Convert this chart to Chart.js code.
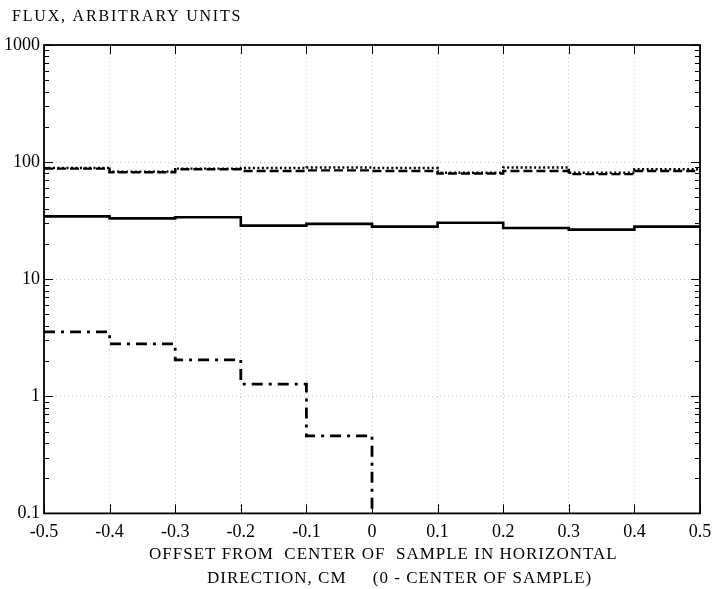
<!DOCTYPE html>
<html>
<head>
<meta charset="utf-8">
<script src="https://cdn.jsdelivr.net/npm/chart.js@4"></script>
<style>
  html, body { margin: 0; padding: 0; background: #fff; }
  #wrap { width: 716px; height: 589px; }
</style>
</head>
<body>
<div id="wrap"><canvas id="fluxChart"></canvas></div>
<script>
"use strict";

// bin edges, cm
const xEdges = [-0.5, -0.4, -0.3, -0.2, -0.1, 0, 0.1, 0.2, 0.3, 0.4, 0.5];
// flux per bin (10 bins)
const dottedFlux = [89, 83, 88, 89, 90, 89, 81, 90, 81, 87];
const dashedFlux = [88, 82, 87, 84, 85, 84, 80, 84, 79, 84];
const solidFlux = [34.4, 33.1, 33.8, 28.7, 29.7, 28.1, 30.3, 27.4, 26.5, 28.1];
// drops below the axis at x = 0
const dashDotFlux = [3.55, 2.8, 2.05, 1.27, 0.46, 0.05];

const yDecades = [0.1, 1, 10, 100, 1000];
const yLabels = ["0.1", "1", "10", "100", "1000"];

// every tick 1..9 per decade
const yTicks = [];
for (let d = 0; d < yDecades.length - 1; d++) {
  for (let k = 1; k < 10; k++) {
    yTicks.push(+(yDecades[d] * k).toPrecision(3));
  }
}
yTicks.push(yDecades[yDecades.length - 1]);

function isDecade(v) {
  const l = Math.log10(v);
  return Math.abs(l - Math.round(l)) < 1e-6;
}

// step points: left edge of each bin, plus the right end
function stepData(vals) {
  const pts = [];
  for (let i = 0; i < vals.length; i++) {
    pts.push({ x: xEdges[i], y: vals[i] });
  }
  if (vals.length < xEdges.length) {
    pts.push({ x: xEdges[vals.length], y: vals[vals.length - 1] });
  }
  return pts;
}

function series(vals, dash, width) {
  return {
    data: stepData(vals),
    borderColor: "#000",
    borderWidth: width,
    borderDash: dash,
    stepped: "before",
    pointRadius: 0,
    fill: false
  };
}

const serif = "'Liberation Serif', 'DejaVu Serif', serif";

//frame, inward ticks and the titles
const framePlugin = {
  id: "frame",
  afterDatasetsDraw(chart) {
    const { ctx, chartArea: a, scales } = chart;
    const x = scales.x;
    const y = scales.y;
    ctx.save();
    ctx.strokeStyle = "#000";
    ctx.lineWidth = 1;
    ctx.beginPath();
    y.ticks.forEach(t => {
      const py = Math.round(y.getPixelForValue(t.value)) + 0.5;
      const len = isDecade(t.value) ? 9 : 5;
      ctx.moveTo(a.left, py); ctx.lineTo(a.left + len, py);
      ctx.moveTo(a.right, py); ctx.lineTo(a.right - len, py);
    });
    x.ticks.forEach(t => {
      const px = Math.round(x.getPixelForValue(t.value)) + 0.5;
      ctx.moveTo(px, a.bottom); ctx.lineTo(px, a.bottom - 9);
      ctx.moveTo(px, a.top); ctx.lineTo(px, a.top + 9);
    });
    ctx.stroke();
    ctx.lineWidth = 1.8;
    ctx.strokeRect(a.left, a.top, a.right - a.left, a.bottom - a.top);
    ctx.restore();
  },
  afterDraw(chart) {
    const ctx = chart.ctx;
    ctx.save();
    ctx.fillStyle = "#000";
    ctx.textAlign = "left";
    ctx.textBaseline = "alphabetic";
    ctx.font = "16px " + serif;
    ctx.letterSpacing = "1.8px";
    ctx.fillText("FLUX, ARBITRARY UNITS", 12, 21);
    ctx.font = "17px " + serif;
    ctx.letterSpacing = "1px";
    ctx.fillText("OFFSET FROM  CENTER OF  SAMPLE IN HORIZONTAL", 149, 559);
    ctx.fillText("DIRECTION, CM     (0 - CENTER OF SAMPLE)", 207, 583);
    ctx.restore();
  }
};

const config = {
  type: "line",
  data: {
    datasets: [
      series(dottedFlux, [2, 2.5], 2.4),
      series(dashedFlux, [9, 4], 2.4),
      series(solidFlux, [], 2.6),
      series(dashDotFlux, [11, 6, 3, 6], 2.8)
    ]
  },
  options: {
    responsive: true,
    maintainAspectRatio: false,
    animation: false,
    events: [],
    layout: { padding: { left: 0, right: 16, top: 45, bottom: 38 } },
    plugins: {
      legend: { display: false },
      tooltip: { enabled: false },
      title: { display: false }
    },
    scales: {
      x: {
        type: "linear",
        min: -0.5,
        max: 0.5,
        afterFit: scale => {
          // let the 0.5 label hang into the margin
          scale.paddingRight = 0;
        },
        grid: {
          color: "#c4c4c4",
          lineWidth: 1,
          drawTicks: false
        },
        border: { display: false, dash: [1, 3] },
        ticks: {
          stepSize: 0.1,
          padding: 8,
          color: "#000",
          font: { family: serif, size: 18 },
          maxRotation: 0,
          callback: v => (Math.abs(v) < 1e-9 ? "0" : v.toFixed(1))
        }
      },
      y: {
        type: "logarithmic",
        min: 0.1,
        max: 1000,
        afterBuildTicks: scale => {
          scale.ticks = yTicks.map(v => ({ value: v }));
        },
        grid: {
          color: c => (c.tick && isDecade(c.tick.value) ? "#c4c4c4" : "rgba(0,0,0,0)"),
          lineWidth: 1,
          drawTicks: false
        },
        border: { display: false, dash: [1, 3] },
        ticks: {
          autoSkip: false,
          padding: 4,
          color: "#000",
          font: { family: serif, size: 18 },
          callback: v => {
            const i = yDecades.findIndex(d => Math.abs(d - v) < 1e-9);
            return i >= 0 ? yLabels[i] : "";
          }
        }
      }
    }
  },
  plugins: [framePlugin]
};

const fluxChart = new Chart(document.getElementById("fluxChart"), config);
</script>
</body>
</html>
